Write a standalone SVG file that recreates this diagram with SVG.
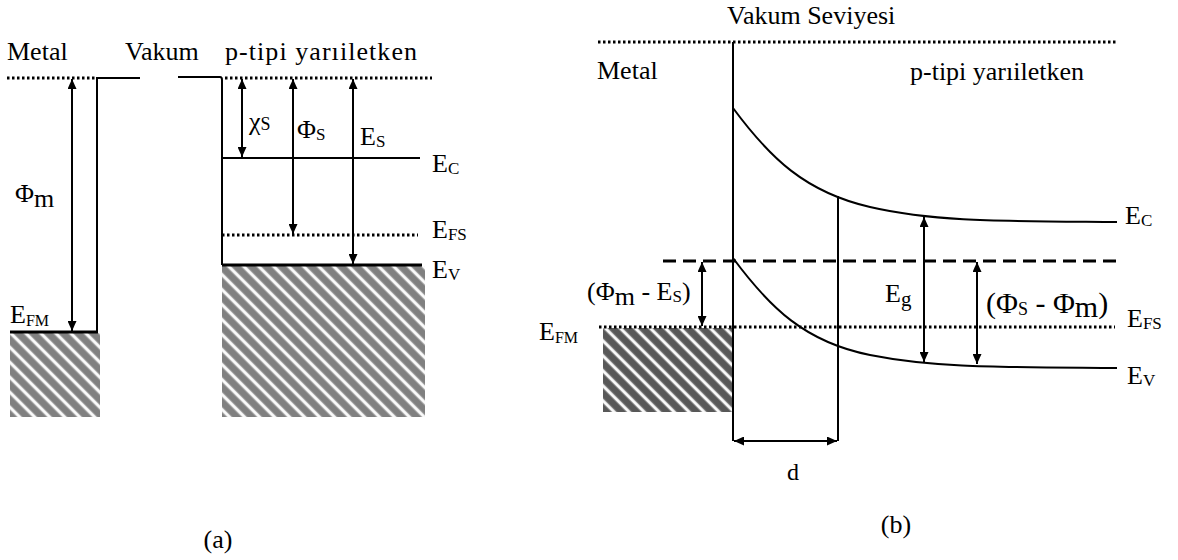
<svg xmlns="http://www.w3.org/2000/svg" width="1178" height="560" viewBox="0 0 1178 560">
<style>
text{font-family:"Liberation Serif","Times New Roman",serif;fill:#000;font-size:26px}
.s{font-size:17px}
.ln{stroke:#000;fill:none;stroke-width:2}
.thk{stroke:#000;fill:none;stroke-width:3}
.dot{stroke:#000;fill:none;stroke-width:3;stroke-dasharray:2.5 2.5}
.dash{stroke:#000;fill:none;stroke-width:3;stroke-dasharray:13 7}
.arr{stroke:#000;fill:none;stroke-width:2;marker-start:url(#ah);marker-end:url(#ah)}
</style>
<defs>
<marker id="ah" markerUnits="userSpaceOnUse" markerWidth="10" markerHeight="9" refX="10" refY="4.5" orient="auto-start-reverse">
<path d="M0,0 L10,4.5 L0,9 z" fill="#000"/>
</marker>
<pattern id="hatchA" patternUnits="userSpaceOnUse" width="10.6" height="10.6" patternTransform="rotate(45)">
<rect width="10.6" height="10.6" fill="#808080"/>
<rect x="0" y="3.6" width="10.6" height="3.6" fill="#d8d8d8"/>
<rect x="0" y="4.3" width="10.6" height="2.2" fill="#fff"/>
</pattern>
<pattern id="hatchB" patternUnits="userSpaceOnUse" width="10.6" height="10.6" patternTransform="rotate(45)">
<rect width="10.6" height="10.6" fill="#585858"/>
<rect x="0" y="3.6" width="10.6" height="3.6" fill="#c8c8c8"/>
<rect x="0" y="4.3" width="10.6" height="2.2" fill="#fff"/>
</pattern>
</defs>
<rect width="1178" height="560" fill="#fff"/>

<!-- Panel (a) -->
<g id="a-hatch">
<rect x="10" y="333" width="90" height="84" fill="url(#hatchA)"/>
<rect x="222" y="266" width="203" height="151" fill="url(#hatchA)"/>
</g>
<g id="a-levels">
<path class="dot" d="M7,78 H96"/>
<path class="ln" d="M97,332 V78 H140"/>
<path class="ln" d="M178,77 H220 Q222,77 222,80 V265"/>
<path class="dot" d="M225,78 H432"/>
<path class="ln" d="M222,158 H420"/>
<path class="dot" d="M222,235 H418"/>
<path class="thk" d="M222,265 H422"/>
<path class="thk" d="M10,332 H98"/>
</g>
<g id="a-arrows">
<path class="arr" d="M72,79 V331"/>
<path class="arr" d="M242,79 V157"/>
<path class="arr" d="M293,79 V234"/>
<path class="arr" d="M353,79 V264"/>
</g>
<g id="a-labels" font-family="Liberation Serif, serif">
<text x="7" y="60">Metal</text>
<text x="125" y="60">Vakum</text>
<text x="225" y="60" textLength="192">p-tipi yarıiletken</text>
<text x="15" y="202">Φ<tspan dy="5">m</tspan></text>
<text x="249" y="130">χ<tspan style="font-size:18px">S</tspan></text>
<text x="297" y="138">Φ<tspan class="s" dy="2">S</tspan></text>
<text x="360" y="145">E<tspan class="s" dy="2">S</tspan></text>
<text x="432" y="172">E<tspan class="s" dy="2">C</tspan></text>
<text x="432" y="238">E<tspan class="s" dy="2">FS</tspan></text>
<text x="432" y="278">E<tspan class="s" dy="2">V</tspan></text>
<text x="10" y="323">E<tspan style="font-size:16px" dy="3">FM</tspan></text>
<text x="218" y="548" text-anchor="middle">(a)</text>
</g>

<!-- Panel (b) -->
<g id="b-hatch">
<rect x="603" y="328" width="129" height="84" fill="url(#hatchB)"/>
</g>
<g id="b-levels">
<path class="dot" d="M598,42 H1118"/>
<path class="ln" d="M733,42 V441"/>
<path class="ln" d="M838,196 V441"/>
<path class="dash" d="M663,261 H1120"/>
<path class="dot" d="M599,327 H1115"/>
<path class="ln" d="M733,108 C770,158 805,192 870,207 S1000,221 1117,222"/>
<path class="ln" d="M733,258 C770,308 805,342 870,355 S1000,367 1117,368"/>
</g>
<g id="b-arrows">
<path class="arr" d="M702,262 V326"/>
<path class="arr" d="M924,217 V362"/>
<path class="arr" d="M977,262 V364"/>
<path class="arr" d="M734,441 H837"/>
</g>
<g id="b-labels" font-family="Liberation Serif, serif">
<text x="727" y="24">Vakum Seviyesi</text>
<text x="597" y="79">Metal</text>
<text x="910" y="80">p-tipi yarıiletken</text>
<text x="1125" y="224">E<tspan class="s" dy="2">C</tspan></text>
<text x="1127" y="327">E<tspan class="s" dy="2">FS</tspan></text>
<text x="1127" y="384">E<tspan class="s" dy="2">V</tspan></text>
<text x="539" y="340">E<tspan style="font-size:16px" dy="3">FM</tspan></text>
<text x="587" y="300">(Φ<tspan dy="5">m</tspan><tspan dy="-5"> - E</tspan><tspan class="s" dy="2">S</tspan><tspan dy="-2">)</tspan></text>
<text x="885" y="302">E<tspan style="font-size:21px" dy="4">g</tspan></text>
<text x="986" y="313" style="font-size:30px">(Φ<tspan style="font-size:18px" dy="2">S</tspan><tspan dy="-2"> - Φ</tspan><tspan dy="4">m</tspan><tspan dy="-4">)</tspan></text>
<text x="793" y="480" text-anchor="middle" style="font-size:24px">d</text>
<text x="896" y="533" text-anchor="middle">(b)</text>
</g>
</svg>
